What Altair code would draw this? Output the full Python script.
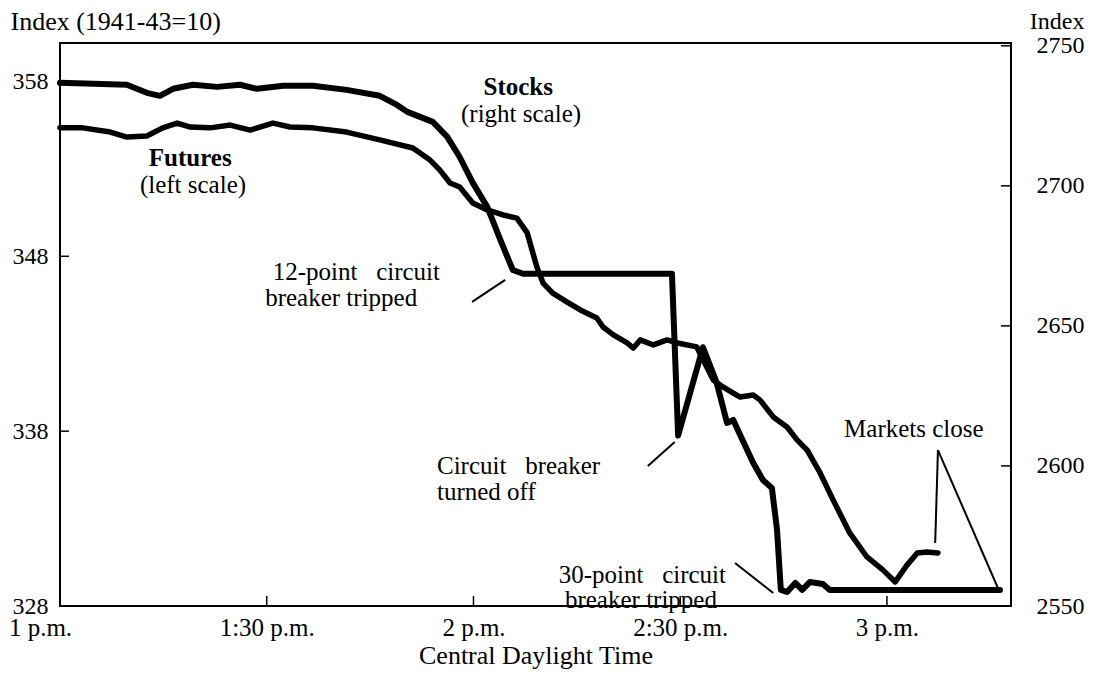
import altair as alt
import pandas as pd

# ---- data (minutes after 1 p.m. CDT) ----
futures_min = [0, 9.7, 12.6, 14.5, 16.4, 19.3, 22.8, 26.1, 28.6, 32.4,
               36.7, 41.6, 46.4, 48.9, 50.4, 54.1, 56.2, 58.0, 59.9, 62.0,
               63.9, 65.7, 67.2, 88.8, 89.7, 93.3, 95.3, 96.8, 97.7, 98.7,
               100.6, 102.0, 103.3, 104.05, 104.6, 105.5, 106.7, 107.7, 108.8, 110.7,
               111.7, 136.4]
futures_val = [357.92, 357.81, 357.35, 357.18, 357.58, 357.81, 357.69, 357.81, 357.58, 357.75,
               357.75, 357.52, 357.18, 356.66, 356.26, 355.69, 354.83, 353.68, 352.20, 350.83,
               348.94, 347.22, 347.0, 347.0, 337.75, 342.8, 340.76, 338.47, 338.64, 337.78,
               336.18, 335.21, 334.75, 332.35, 328.92, 328.8, 329.32, 328.92, 329.37, 329.26,
               328.92, 328.92]

stocks_min = [0, 3.3, 7.3, 9.7, 12.6, 14.9, 17.0, 18.9, 21.8, 24.7,
              27.6, 30.9, 33.4, 36.7, 41.6, 46.4, 51.2, 53.7, 55.1, 56.6,
              58.0, 59.9, 62.0, 64.3, 66.3, 67.8, 69.2, 70.1, 71.5, 73.6,
              75.5, 77.9, 78.8, 80.3, 82.3, 83.2, 84.2, 86.1, 88.1, 89.6,
              92.4, 94.8, 96.2, 97.7, 98.7, 100.6, 101.6, 103.5, 105.5, 106.95,
              108.4, 110.3, 112.2, 114.6, 117.1, 119.4, 121.2, 122.9, 124.4, 125.8,
              127.4]
stocks_val = [2720.7, 2720.7, 2719.2, 2717.4, 2717.8, 2720.7, 2722.4, 2721.0, 2720.7, 2721.7,
              2719.9, 2722.4, 2721.0, 2720.7, 2719.2, 2716.4, 2713.5, 2709.2, 2705.7, 2701.0,
              2699.6, 2693.9, 2691.4, 2689.6, 2688.5, 2683.2, 2671.0, 2665.3, 2661.7, 2658.5,
              2655.7, 2652.8, 2649.6, 2646.8, 2643.9, 2642.1, 2645.0, 2643.2, 2645.0, 2643.9,
              2642.5, 2630.7, 2628.2, 2626.0, 2624.6, 2625.3, 2623.5, 2617.5, 2613.9, 2609.3,
              2605.7, 2597.5, 2587.8, 2576.1, 2567.5, 2562.9, 2558.6, 2564.6, 2568.9, 2569.3,
              2568.9]

x_tick_values = [0, 30, 60, 90, 120]
x_tick_labels = ["1 p.m.", "1:30 p.m.", "2 p.m.", "2:30 p.m.", "3 p.m."]
left_ticks = [328, 338, 348, 358]
right_ticks = [2550, 2600, 2650, 2700, 2750]

NB = "\u00a0"
# annotations (x in minutes, y on left scale)
note_text = ["(right scale)", "(left scale)", "12-point" + NB * 3 + "circuit", "breaker tripped",
             "30-point" + NB * 3 + "circuit", "breaker tripped", "Markets close"]
note_x = [66.9, 19.3, 43.0, 40.8, 84.5, 84.3, 123.9]
note_y = [356.15, 352.08, 347.1, 345.62, 329.78, 328.37, 338.13]

bold_text = ["Stocks", "Futures"]
bold_x = [66.5, 18.9]
bold_y = [357.69, 353.63]

left_text = ["Circuit" + NB * 3 + "breaker", "turned off"]
left_x = [54.7, 54.7]
left_y = [336.01, 334.52]

lead_x1 = [59.8, 85.3, 97.95, 127.4, 127.4]
lead_y1 = [345.39, 336.01, 330.46, 336.92, 336.92]
lead_x2 = [64.6, 89.2, 103.5, 127.0, 136.1]
lead_y2 = [346.65, 337.38, 328.74, 331.6, 329.03]

FONT = "Liberation Serif"
W, H = 951, 563

fut_df = pd.DataFrame({"m": futures_min, "v": futures_val})
stk_df = pd.DataFrame({"m": stocks_min, "s": stocks_val})
note_df = pd.DataFrame({"m": note_x, "v": note_y, "t": note_text})
bold_df = pd.DataFrame({"m": bold_x, "v": bold_y, "t": bold_text})
left_df = pd.DataFrame({"m": left_x, "v": left_y, "t": left_text})
lead_df = pd.DataFrame({"m": lead_x1, "v": lead_y1, "m2": lead_x2, "v2": lead_y2})
lt_df = pd.DataFrame({"v": left_ticks})
rt_df = pd.DataFrame({"s": right_ticks})
xt_df = pd.DataFrame({"m": x_tick_values[1:]})

label_expr = "[" + ",".join("'%s'" % l for l in x_tick_labels) + "][round(datum.value/30)]"

x_scale = alt.Scale(domain=[0, 138], nice=False, zero=False)
x_axis = alt.Axis(values=x_tick_values, labelExpr=label_expr, title="Central Daylight Time",
                  labelPadding=9, titlePadding=2, labelFlush=False, labelFontSize=25,
                  titleFontSize=26,
                  labelOffset={"condition": {"test": "datum.value === 0", "value": -20}, "value": 0})

left_scale = alt.Scale(domain=[328, 360.2], nice=False, zero=False)
left_axis = alt.Axis(values=left_ticks, title="Index (1941-43=10)", titleAngle=0,
                     titleAlign="left", titleBaseline="middle", titleX=-50, titleY=-22,
                     titleFontSize=26, labelPadding=12, format="d")
right_scale = alt.Scale(domain=[2550, 2751], nice=False, zero=False)
right_axis = alt.Axis(values=right_ticks, title="Index", orient="right", titleAngle=0,
                      titleAlign="right", titleBaseline="middle", titleX=73, titleY=-22,
                      labelPadding=25, format="d")


def X(f="m"):
    return alt.X(f + ":Q", scale=x_scale, axis=x_axis)


def YL(f="v"):
    return alt.Y(f + ":Q", scale=left_scale, axis=left_axis)


def YR(f="s"):
    return alt.Y(f + ":Q", scale=right_scale, axis=right_axis)


fut_line = alt.Chart(fut_df).mark_line(color="black", strokeWidth=6, strokeJoin="round",
                                       strokeCap="round").encode(x=X(), y=YL(), order="m:Q")
stk_line = alt.Chart(stk_df).mark_line(color="black", strokeWidth=5.5, strokeJoin="round",
                                       strokeCap="round").encode(x=X(), y=YR(), order="m:Q")

left_tick_marks = alt.Chart(lt_df).mark_rule(color="black", strokeWidth=1.5).encode(
    y=YL(), x=alt.value(0), x2=alt.value(9))
right_tick_marks = alt.Chart(rt_df).mark_rule(color="black", strokeWidth=1.5).encode(
    y=YR(), x=alt.value(W - 10), x2=alt.value(W))
bottom_tick_marks = alt.Chart(xt_df).mark_rule(color="black", strokeWidth=1.5).encode(
    x=X(), y=alt.value(H), y2=alt.value(H - 10))

notes = alt.Chart(note_df).mark_text(font=FONT, fontSize=25, color="black", align="center",
                                     baseline="middle").encode(x=X(), y=YL(), text="t:N")
bolds = alt.Chart(bold_df).mark_text(font=FONT, fontSize=25, fontWeight="bold", color="black",
                                     align="center", baseline="middle").encode(x=X(), y=YL(), text="t:N")
lefts = alt.Chart(left_df).mark_text(font=FONT, fontSize=25, color="black", align="left",
                                     baseline="middle").encode(x=X(), y=YL(), text="t:N")
leaders = alt.Chart(lead_df).mark_rule(color="black", strokeWidth=2).encode(
    x=X(), y=YL(), x2="m2:Q", y2="v2:Q")

left_group = alt.layer(fut_line, left_tick_marks, bottom_tick_marks, leaders, notes, bolds, lefts)
right_group = alt.layer(stk_line, right_tick_marks)

chart = alt.layer(left_group, right_group).resolve_scale(y="independent").properties(
    width=W, height=H,
    autosize=alt.AutoSizeParams(type="none"),
    padding={"left": 52, "top": 35, "right": 74, "bottom": 64},
).configure_view(stroke="black", strokeWidth=2).configure_axis(
    labelFont=FONT, labelFontSize=24, labelColor="black",
    titleFont=FONT, titleFontSize=24, titleFontWeight="normal", titleColor="black",
    tickSize=0, domain=False, grid=False,
)

chart.save("out.html", embed_options={"renderer": "svg", "actions": False})
